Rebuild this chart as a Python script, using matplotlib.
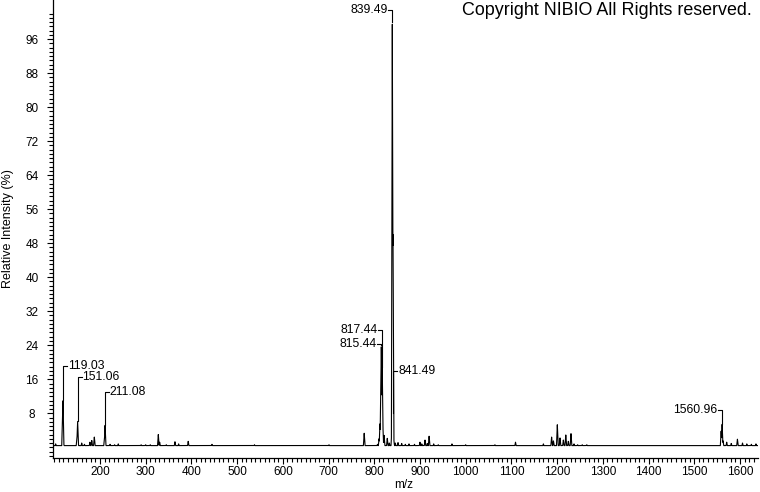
import numpy as np
import matplotlib
matplotlib.use("Agg")
import matplotlib.pyplot as plt
from matplotlib.ticker import FixedLocator

plt.rcParams['font.family'] = ['Liberation Sans', 'DejaVu Sans']

# ---- data ----
baseline = 0.4
peak_mz = [103, 118.2, 119.03, 120.4, 149.6, 151.06, 152.2, 160, 166, 178, 182, 187.6,
           209.8, 211.08, 212.3, 222, 232, 240, 290, 300, 310, 327.6, 330.5, 345, 364, 372,
           393, 445, 538, 701, 778, 807, 810.5, 812.5, 814.4, 815.44, 816.4, 817.44, 818.6,
           821.5, 828.5, 833, 838.4, 839.49, 840.49, 841.0, 841.49, 842.6, 846, 852, 860,
           868, 876, 888, 900, 904, 911, 916, 920, 930, 940, 970, 1000, 1064, 1109, 1170,
           1188, 1192, 1200.5, 1206.4, 1213.7, 1219, 1224.6, 1230.4, 1237, 1245, 1255, 1265,
           1558.9, 1560.96, 1563, 1571, 1581, 1594.5, 1605.6, 1615, 1625, 1635]
peak_int = [0.8, 7.8, 11.1, 0.9, 2.2, 6.2, 0.8, 1.0, 0.7, 1.2, 1.6, 2.4,
            2.0, 5.2, 0.8, 0.7, 0.6, 0.8, 0.6, 0.6, 0.6, 3.0, 1.2, 0.6, 1.3, 0.8,
            1.4, 0.7, 0.6, 0.6, 3.3, 0.7, 2.0, 5.5, 14.0, 24.1, 14.5, 19.0, 6.0,
            2.8, 2.1, 1.0, 4.0, 100.0, 57.0, 50.0, 8.0, 2.0, 1.0, 1.1, 0.9,
            0.7, 0.8, 0.7, 1.2, 0.8, 1.7, 0.9, 2.6, 0.8, 0.6, 0.8, 0.6, 0.6, 1.2, 0.8,
            2.4, 1.5, 5.3, 2.2, 1.7, 2.9, 1.4, 3.2, 0.8, 0.6, 0.6, 0.6,
            3.8, 5.5, 1.5, 1.2, 0.9, 1.9, 1.0, 0.8, 0.7, 0.8]

label_text = ['119.03', '151.06', '211.08', '815.44', '817.44', '839.49', '841.49', '1560.96']
label_mz = [119.03, 151.06, 211.08, 815.44, 817.44, 839.49, 841.49, 1560.96]
label_peak = [11.1, 6.2, 5.2, 24.1, 19.0, 100.0, 8.0, 5.5]
label_level = [19.2, 16.6, 13.1, 24.3, 27.7, 102.8, 17.9, 8.8]
label_side = ['right', 'right', 'right', 'left', 'left', 'left', 'right', 'left']

y_major = [8, 16, 24, 32, 40, 48, 56, 64, 72, 80, 88, 96]
x_major = [200, 300, 400, 500, 600, 700, 800, 900, 1000, 1100, 1200, 1300, 1400, 1500, 1600]

# ---- build profile line from the peak list ----
half_width = 2.0
grid = np.arange(97.0, 1640.0, 0.1)
prof = np.full_like(grid, baseline)
for m, h in zip(peak_mz, peak_int):
    tri = h * (1 - np.abs(grid - m) / half_width)
    prof = np.maximum(prof, tri)

fig = plt.figure(figsize=(7.6, 4.92), dpi=100)
ax = fig.add_axes([53 / 760, (492 - 457.5) / 492, 705 / 760, 457.5 / 492])
ax.plot(grid, prof, color='black', lw=0.8)

ax.set_xlim(97.2, 1639.5)
ax.set_ylim(-2.4, 105.2)

for s in ['top', 'right']:
    ax.spines[s].set_visible(False)
for s in ['left', 'bottom']:
    ax.spines[s].set_linewidth(0.9)

ax.yaxis.set_major_locator(FixedLocator(y_major))
ax.yaxis.set_minor_locator(FixedLocator(list(range(-2, 103))))
ax.xaxis.set_major_locator(FixedLocator(x_major))
ax.xaxis.set_minor_locator(FixedLocator(list(range(100, 1641, 10))))
ax.set_yticklabels([str(v) for v in y_major])
ax.set_xticklabels([str(v) for v in x_major])

ax.tick_params(axis='y', which='major', length=4.5, width=0.8, pad=10.5, labelsize=8.5)
ax.tick_params(axis='y', which='minor', length=2.6, width=0.8)
ax.tick_params(axis='x', which='major', length=4.3, width=0.8, pad=2.0, labelsize=8.5)
ax.tick_params(axis='x', which='minor', length=2.8, width=0.8)
for t in ax.get_yticklabels():
    t.set_horizontalalignment('center')

ax.set_xlabel('m/z', fontsize=8.5)
ax.set_ylabel('Relative Intensity (%)', fontsize=9)
ax.yaxis.set_label_coords(-0.0557, 0.50)
ax.xaxis.set_label_coords(0.497, -0.048)

# ---- peak labels with brackets ----
dx = 9.0
gap = 1.5
for txt, m, pk, lv, side in zip(label_text, label_mz, label_peak, label_level, label_side):
    if side == 'right':
        ax.plot([m, m, m + dx], [pk, lv, lv], color='black', lw=0.8, clip_on=False)
        ax.text(m + dx + gap, lv, txt, ha='left', va='center', fontsize=8.8, clip_on=False)
    else:
        ax.plot([m - dx, m, m], [lv, lv, pk], color='black', lw=0.8, clip_on=False)
        ax.text(m - dx - gap, lv, txt, ha='right', va='center', fontsize=8.8, clip_on=False)

fig.text(752 / 760, 1 - 15.3 / 492, 'Copyright NIBIO All Rights reserved.', ha='right',
         va='baseline', fontsize=12.9)

fig.savefig('out.png', dpi=100)
